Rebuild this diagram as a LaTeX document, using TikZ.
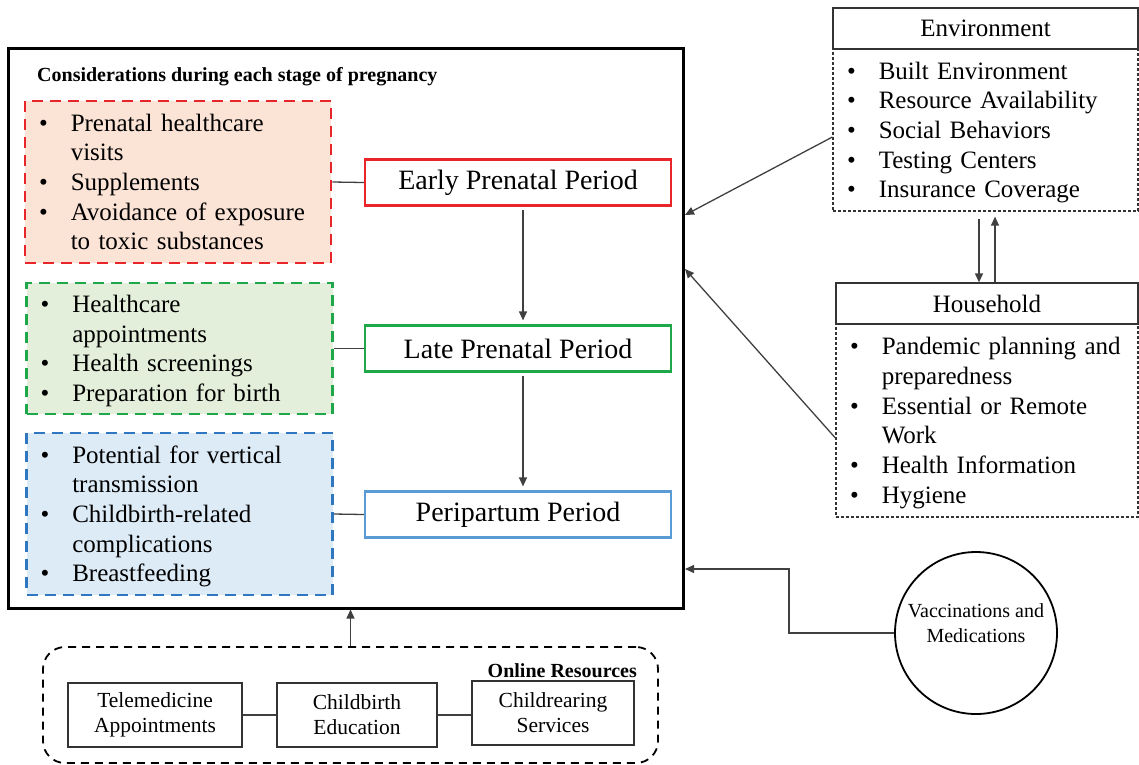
\documentclass[tikz,border=0pt]{standalone}
\usepackage{fontspec}
\setmainfont{Liberation Serif}
\usetikzlibrary{arrows.meta}
\definecolor{redline}{HTML}{E8262A}
\definecolor{redfill}{HTML}{FBE3D6}
\definecolor{greenline}{HTML}{1FA84A}
\definecolor{greenfill}{HTML}{E3EFDA}
\definecolor{blueline}{HTML}{2F77C0}
\definecolor{bluefill}{HTML}{DDEBF7}
\definecolor{periline}{HTML}{5B9BD5}
\newcommand{\blist}[1]{\raisebox{-2.5pt}[\height][\depth]{\begin{tabular}{@{}l@{\hspace{23pt}}l@{}}#1\end{tabular}}}

\begin{document}
\begin{tikzpicture}[x=1pt,y=-1pt]
\tikzstyle{conn}=[draw=black!75,line width=1.3pt]
\tikzstyle{arr}=[conn,-{Triangle[length=9pt,width=8pt]}]
\tikzstyle{period}=[rectangle,draw,line width=2.2pt,minimum width=306pt,minimum height=46pt,fill=white,font=\fontsize{28}{33}\selectfont]
\tikzstyle{stagebox}=[rectangle,draw,line width=2.8pt,dash pattern=on 11pt off 7pt,minimum width=306pt,text width=278pt,inner xsep=14pt,align=left,font=\fontsize{25}{29.7}\selectfont]
\tikzstyle{head}=[rectangle,draw=black!80,line width=1.3pt,fill=white,minimum height=41pt,font=\fontsize{25}{30}\selectfont]
\tikzstyle{body}=[rectangle,draw=black!80,line width=1.2pt,dash pattern=on 3pt off 2pt,inner xsep=14pt,align=left,font=\fontsize{25}{29.7}\selectfont]
\tikzstyle{res}=[rectangle,draw=black!80,line width=1.3pt,minimum height=64pt,align=center,font=\fontsize{21.5}{25}\selectfont]
\useasboundingbox (0,0) rectangle (1139,764);

\node[draw,line width=3pt,minimum width=675pt,minimum height=560pt] (main) at (345.5,328) {};
\node[anchor=west,inner sep=0pt,font=\bfseries\fontsize{20}{24}\selectfont] (title) at (37,77) {Considerations during each stage of pregnancy};

\node[stagebox,draw=redline,fill=redfill,minimum height=162pt] (elist) at (178,182) {\blist{%
\textbullet & Prenatal healthcare\\ & visits\\
\textbullet & Supplements\\
\textbullet & Avoidance of exposure\\ & to toxic substances}};
\node[stagebox,draw=greenline,fill=greenfill,minimum height=131pt] (llist) at (179.5,348.5) {\blist{%
\textbullet & Healthcare\\ & appointments\\
\textbullet & Health screenings\\
\textbullet & Preparation for birth}};
\node[stagebox,draw=blueline,fill=bluefill,minimum height=162pt] (plist) at (179.5,514) {\blist{%
\textbullet & Potential for vertical\\ & transmission\\
\textbullet & Childbirth-related\\ & complications\\
\textbullet & Breastfeeding}};

\foreach \name/\col/\py/\txt in {
	early/redline/182.5/Early Prenatal Period,
	late/greenline/348.5/Late Prenatal Period,
	peri/periline/514.5/Peripartum Period}
	\node[period,draw=\col] (\name) at (518,\py) {\txt};

\draw[conn] (elist.east) -- (early.west);
\draw[conn] (llist.east) -- (late.west);
\draw[conn] (plist.east) -- (peri.west);
\draw[arr,shorten <=3pt,shorten >=4pt] ([xshift=5pt]early.south) -- ([xshift=5pt]late.north);
\draw[arr,shorten <=3pt,shorten >=4pt] ([xshift=5pt]late.south) -- ([xshift=5pt]peri.north);

\node[body,minimum width=305pt,text width=277pt,minimum height=162pt] (envbody) at (985.5,130) {\blist{%
\textbullet & Built Environment\\
\textbullet & Resource Availability\\
\textbullet & Social Behaviors\\
\textbullet & Testing Centers\\
\textbullet & Insurance Coverage}};
\node[head,minimum width=305pt] (envhead) at (985.5,28.5) {Environment};

\node[body,minimum width=302pt,text width=274pt,minimum height=193pt] (hhbody) at (987,420.5) {\blist{%
\textbullet & Pandemic planning and\\ & preparedness\\
\textbullet & Essential or Remote\\ & Work\\
\textbullet & Health Information\\
\textbullet & Hygiene}};
\node[head,minimum width=302pt] (hhhead) at (987,303.5) {Household};

\draw[arr] ([xshift=-6.5pt,yshift=-7pt]envbody.south) -- ([xshift=-8pt]hhhead.north);
\draw[arr] ([xshift=8pt]hhhead.north) -- ([xshift=9.5pt,yshift=-5pt]envbody.south);

\coordinate (envin) at (685,215);
\coordinate (hhin) at (685,269);
\coordinate (vin) at (685,569);
\draw[arr] ([yshift=-7pt]envbody.west) -- (envin);
\draw[arr] ([yshift=-17.5pt]hhbody.west) -- (hhin);

\node[circle,draw,line width=1.8pt,minimum size=162pt,font=\fontsize{20}{25}\selectfont] (vacc) at (976,633) {\raisebox{8pt}[\height][\depth]{\begin{tabular}{@{}c@{}}Vaccinations and\\Medications\end{tabular}}};
\draw[arr] (vacc.west) -- ++(-105,0) |- (vin);

\node[draw,line width=1.8pt,dash pattern=on 8pt off 6pt,rounded corners=22pt,minimum width=615pt,minimum height=116pt] (online) at (350.5,705) {};
\node[anchor=east,inner sep=0pt,font=\bfseries\fontsize{20}{24}\selectfont] (ontitle) at (637,671) {Online Resources};
\node[res,minimum width=174pt] (tele) at (155,715) {Telemedicine\\Appointments};
\node[res,minimum width=160pt] (edu) at (357,715) {Childbirth\\Education};
\node[res,minimum width=162pt] (rear) at (553,713) {Childrearing\\Services};
\draw[conn] (tele) -- (edu);
\draw[conn] (edu.east) -- (edu.east -| rear.west);
\draw[arr] (online.north) -- (online.north |- main.south);
\end{tikzpicture}
\end{document}
